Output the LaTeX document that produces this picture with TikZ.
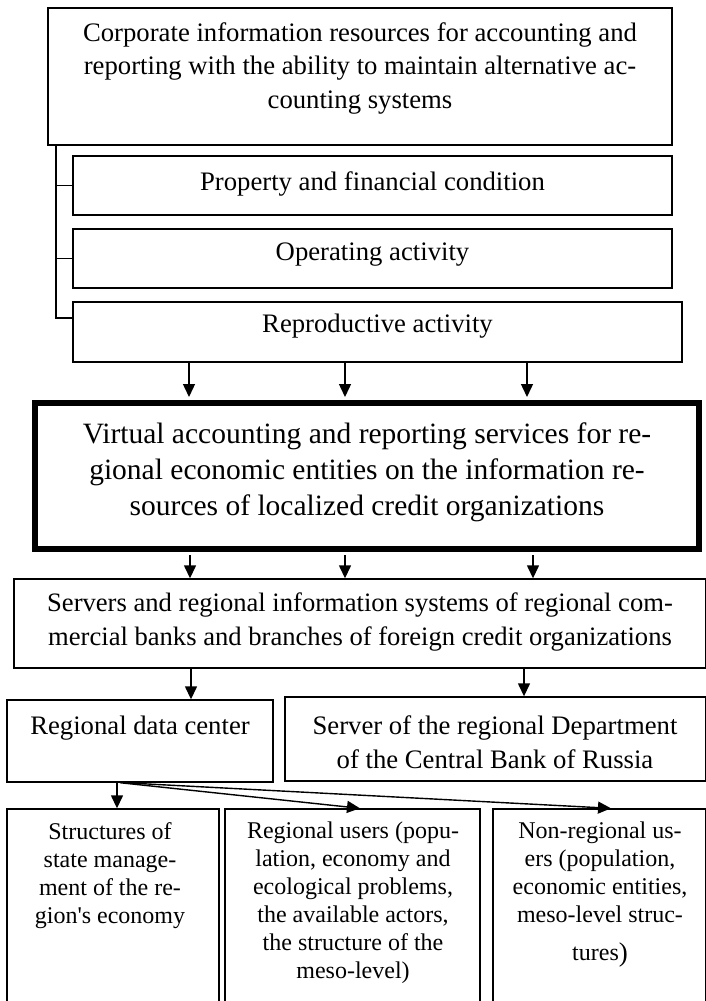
\documentclass[tikz,border=0pt]{standalone}
\usepackage{fontspec}
\setmainfont{Liberation Serif}
\usetikzlibrary{arrows.meta,calc}
\tikzset{
  box/.style={draw, line width=1.4pt, rectangle, inner sep=0pt},
  thickbox/.style={draw, line width=6pt, rectangle, inner sep=0pt},
  txt/.style={align=center, inner sep=0pt, font=\fontsize{26.7}{33.5}\selectfont},
  txtb/.style={align=center, inner sep=0pt, font=\fontsize{29.5}{36}\selectfont},
  txtm/.style={align=center, inner sep=0pt, font=\fontsize{26.6}{34}\selectfont},
  txts/.style={align=center, inner sep=0pt, font=\fontsize{24}{28}\selectfont},
  arr/.style={line width=1.4pt, -{Triangle[length=13pt,width=12pt]}},
  ln/.style={line width=1.4pt}
}
\begin{document}
\begin{tikzpicture}[x=1pt,y=-1pt]
\useasboundingbox (0,0) rectangle (705,1001);
% boxes
\node[box, minimum width=624pt, minimum height=137pt] (top) at (360,76.5) {};
\node[box, minimum width=599pt, minimum height=59pt] (prop) at (372.5,185.5) {};
\node[box, minimum width=599pt, minimum height=59pt] (oper) at (372.5,258.5) {};
\node[box, minimum width=609pt, minimum height=60pt] (repr) at (377.5,332) {};
\node[thickbox, minimum width=664pt, minimum height=146pt] (virt) at (367,476) {};
\node[box, minimum width=692pt, minimum height=89pt] (serv) at (360,623.5) {};
\node[box, minimum width=266pt, minimum height=82pt] (rdc) at (140,741) {};
\node[box, minimum width=421pt, minimum height=84pt] (cb) at (495.5,739) {};
\node[box, minimum width=212pt, minimum height=200pt] (b1) at (113,909) {};
\node[box, minimum width=255pt, minimum height=200pt] (b2) at (352.5,909) {};
\node[box, minimum width=213pt, minimum height=200pt] (b3) at (599.5,909) {};
% texts
\node[txt] (topt) at (360,68) {Corporate information resources for accounting and\\reporting with the ability to maintain alternative ac-\\counting systems};
\node[txt] (propt) at (372.5,184) {Property and financial condition};
\node[txt] (opert) at (372.5,255) {Operating activity};
\node[txt] (reprt) at (377.5,326) {Reproductive activity};
\node[txtb] (virtt) at (367,472) {Virtual accounting and reporting services for re-\\gional economic entities on the information re-\\sources of localized credit organizations};
\node[txtm] (servt) at (360,622) {Servers and regional information systems of regional com-\\mercial banks and branches of foreign credit organizations};
\node[txt] (rdct) at (140,728) {Regional data center};
\node[txt] (cbt) at (495,742) {Server of the regional Department\\of the Central Bank of Russia};
\node[txts] (b1t) at (110,876) {Structures of\\state manage-\\ment of the re-\\gion\textquotesingle s economy};
\node[txts] (b2t) at (353,903) {Regional users (popu-\\lation, economy and\\ecological problems,\\the available actors,\\the structure of the\\meso-level)};
\node[txts, anchor=north] (b3t) at (600,822) {Non-regional us-\\ers (population,\\economic entities,\\meso-level struc-\\[10pt]tures\raisebox{-1pt}{\fontsize{27}{27}\selectfont)}};
% bracket
\coordinate (bx) at (56,0);
\coordinate (rt) at ($(repr.west)+(0,-14)$);
\draw[ln] (top.south -| bx) -- (rt -| bx) -- (rt);
\draw[ln] (prop.west -| bx) -- (prop.west);
\draw[ln] (oper.west -| bx) -- (oper.west);
% arrows repr -> virt
\foreach \xx/\nm in {189/a1,345/a2,527/a3}{\coordinate (\nm) at (\xx,0);}
\draw[arr] (repr.south -| a1) -- ($(virt.north -| a1)+(0,-3)$);
\draw[arr] (repr.south -| a2) -- ($(virt.north -| a2)+(0,-3)$);
\draw[arr] (repr.south -| a3) -- ($(virt.north -| a3)+(0,-3)$);
% arrows virt -> serv
\foreach \xx/\nm in {190/c1,345/c2,533/c3}{\coordinate (\nm) at (\xx,0);}
\draw[arr] ($(virt.south -| c1)+(0,3)$) -- (serv.north -| c1);
\draw[arr] ($(virt.south -| c2)+(0,3)$) -- (serv.north -| c2);
\draw[arr] ($(virt.south -| c3)+(0,3)$) -- (serv.north -| c3);
% serv -> rdc, cb
\coordinate (d1) at (191,0);
\coordinate (d2) at (524,0);
\draw[arr] (serv.south -| d1) -- (rdc.north -| d1);
\draw[arr] (serv.south -| d2) -- (cb.north -| d2);
% rdc -> bottom
\coordinate (e0) at (117,0);
\coordinate (e2) at (360,0);
\coordinate (e3) at (611,0);
\draw[arr] (rdc.south -| e0) -- (b1.north -| e0);
\draw[arr] ($(rdc.south -| e0)+(3,0)$) -- (b2.north -| e2);
\draw[arr] ($(rdc.south -| e0)+(6,0)$) -- (b3.north -| e3);
\end{tikzpicture}
\end{document}
